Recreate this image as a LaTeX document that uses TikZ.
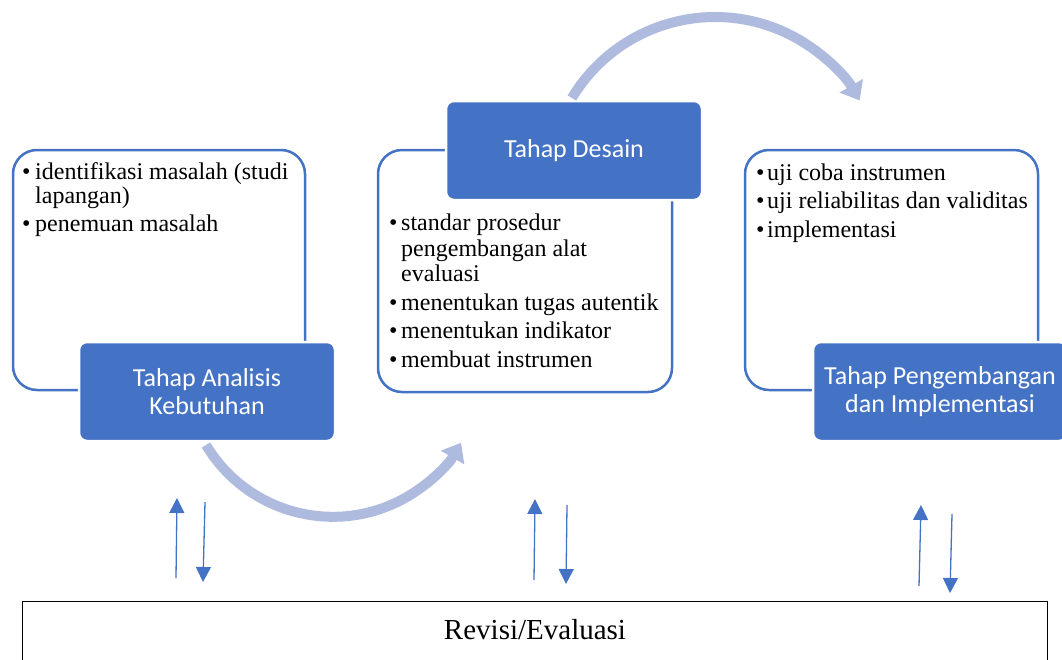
\documentclass[tikz,border=0pt]{standalone}
\usepackage{fontspec}
\setmainfont{Liberation Serif}
\newfontfamily\calibri{Carlito}
\usetikzlibrary{arrows.meta}
\definecolor{accent}{HTML}{4472C4}
\definecolor{arcblue}{RGB}{174,187,222}
\begin{document}
\begin{tikzpicture}[x=1pt,y=1pt,
  frame/.style={draw=accent, line width=2.5pt, fill=white, rounded corners=24pt, inner sep=0pt},
  stage/.style={fill=accent, draw=white, line width=2.5pt, rounded corners=8pt, text=white,
    font=\calibri\fontsize{26}{28}\selectfont, align=center, inner sep=0pt},
  item/.style={anchor=base west, inner sep=0pt, font=\fontsize{24}{26}\selectfont},
  bigarc/.style={draw=arcblue, line width=10pt, -{Triangle[width=26pt,length=17pt]}},
  small/.style={draw=accent, line width=1.3pt, -{Triangle[width=15pt,length=15pt]}},
  revbox/.style={draw=black, line width=1.2pt, fill=white, inner sep=0pt}
]
\useasboundingbox (0,0) rectangle (1062,-659);
\clip (0,0) rectangle (1062,-659);

% content frames
\node[frame, minimum width=292pt, minimum height=240pt] (f1) at (159,-270) {};
\node[frame, minimum width=294pt, minimum height=242pt] (f2) at (525,-271) {};
\node[frame, minimum width=293pt, minimum height=240pt] (f3) at (891.5,-270) {};

% stage boxes
\node[stage, minimum width=256pt, minimum height=99pt] (s1) at (207,-391.5) {Tahap Analisis\\Kebutuhan};
\node[stage, minimum width=256pt, minimum height=99pt] (s2) at (574,-150.5) {Tahap Desain};
\node[stage, minimum width=254pt, minimum height=99pt] (s3) at (940,-391.5) {Tahap Pengembangan\\dan Implementasi};

% texts box 1
\node[item] (b11) at (22,-179) {•};
\node[item] (t11) at (35,-179) {identifikasi masalah (studi};
\node[item] (t12) at (35,-203) {lapangan)};
\node[item] (b12) at (22,-231) {•};
\node[item] (t13) at (35,-231) {penemuan masalah};

% texts box 2
\node[item] (b21) at (389,-230) {•};
\node[item] (t21) at (401,-230) {standar prosedur};
\node[item] (t22) at (401,-256) {pengembangan alat};
\node[item] (t23) at (401,-281) {evaluasi};
\node[item] (b22) at (389,-310) {•};
\node[item] (t24) at (401,-310) {menentukan tugas autentik};
\node[item] (b23) at (389,-338) {•};
\node[item] (t25) at (401,-338) {menentukan indikator};
\node[item] (b24) at (389,-367) {•};
\node[item] (t26) at (401,-367) {membuat instrumen};

% texts box 3
\node[item] (b31) at (756,-180) {•};
\node[item] (t31) at (767,-180) {uji coba instrumen};
\node[item] (b32) at (756,-208) {•};
\node[item] (t32) at (767,-208) {uji reliabilitas dan validitas};
\node[item] (b33) at (756,-237) {•};
\node[item] (t33) at (767,-237) {implementasi};

% revision box
\node[revbox, minimum width=1025pt, minimum height=120pt, anchor=north west] (rev) at (22,-601) {};
\node[anchor=base, inner sep=0pt, font=\fontsize{29}{32}\selectfont] (revt) at (535,-639) {Revisi/Evaluasi};

% big curved arrows
\coordinate (a1) at (571.9,-98);
\draw[bigarc] (a1) arc[start angle=149, end angle=30, radius=167];
\coordinate (a2) at (206,-445);
\draw[bigarc] (a2) arc[start angle=211, end angle=330, radius=148];

% small arrows
\coordinate (u1s) at (176,-578); \coordinate (u1e) at (177,-498);
\coordinate (d1s) at (205,-502); \coordinate (d1e) at (203,-582);
\coordinate (u2s) at (534,-580); \coordinate (u2e) at (535,-499);
\coordinate (d2s) at (567,-505); \coordinate (d2e) at (566,-584);
\coordinate (u3s) at (919,-586); \coordinate (u3e) at (921,-505);
\coordinate (d3s) at (952,-514); \coordinate (d3e) at (950,-593);
\draw[small] (u1s) -- (u1e);
\draw[small] (d1s) -- (d1e);
\draw[small] (u2s) -- (u2e);
\draw[small] (d2s) -- (d2e);
\draw[small] (u3s) -- (u3e);
\draw[small] (d3s) -- (d3e);
\end{tikzpicture}
\end{document}
